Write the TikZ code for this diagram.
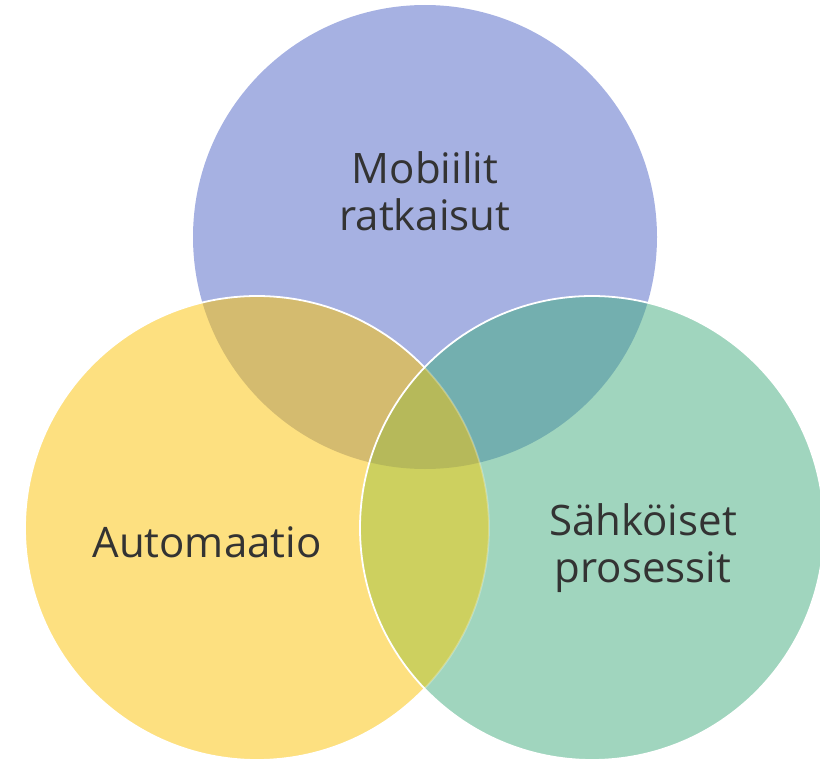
\documentclass[tikz,border=0pt]{standalone}
\usepackage{fontspec}
\setmainfont{Open Sans}

\definecolor{mobfill}{HTML}{A6B1E2}
\definecolor{autfill}{HTML}{FDE080}
\definecolor{sahfill}{HTML}{A0D5BE}
\definecolor{mobaut}{HTML}{D4BB6F}
\definecolor{mobsah}{HTML}{73AFAF}
\definecolor{autsah}{HTML}{CDD05F}
\definecolor{kaikki}{HTML}{B6B95A}
\definecolor{txt}{HTML}{333333}

\begin{document}
\begin{tikzpicture}[x=1pt,y=-1pt,
    circtext/.style={font=\fontsize{42}{47}\selectfont, text=txt, align=center},
    rim/.style={white, line width=1.8pt}]
    \clip (0,0) rectangle (820,760);
    \def\rad{232}
    \coordinate (mob) at (425,237);
    \coordinate (aut) at (257,528);
    \coordinate (sah) at (592,528);
    % top circle
    \fill[mobfill] (mob) circle (\rad);
    % left circle
    \fill[autfill] (aut) circle (\rad);
    \begin{scope}
        \clip (mob) circle (\rad);
        \fill[mobaut] (aut) circle (\rad);
    \end{scope}
    \draw[rim] (aut) circle (\rad);
    % right circle
    \fill[sahfill] (sah) circle (\rad);
    \begin{scope}
        \clip (sah) circle (\rad);
        \fill[mobsah] (mob) circle (\rad);
        \fill[autsah] (aut) circle (\rad);
        \begin{scope}
            \clip (mob) circle (\rad);
            \fill[kaikki] (aut) circle (\rad);
        \end{scope}
        \draw[rim, opacity=.25] (aut) circle (\rad);
    \end{scope}
    \draw[rim] (sah) circle (\rad);
    % texts
    \node[circtext] (mobtxt) at (425,191) {Mobiilit\\ratkaisut};
    \node[circtext] (auttxt) at (207,542) {Automaatio};
    \node[circtext] (sahtxt) at (643,548) {Sähköiset\\prosessit};
\end{tikzpicture}
\end{document}
